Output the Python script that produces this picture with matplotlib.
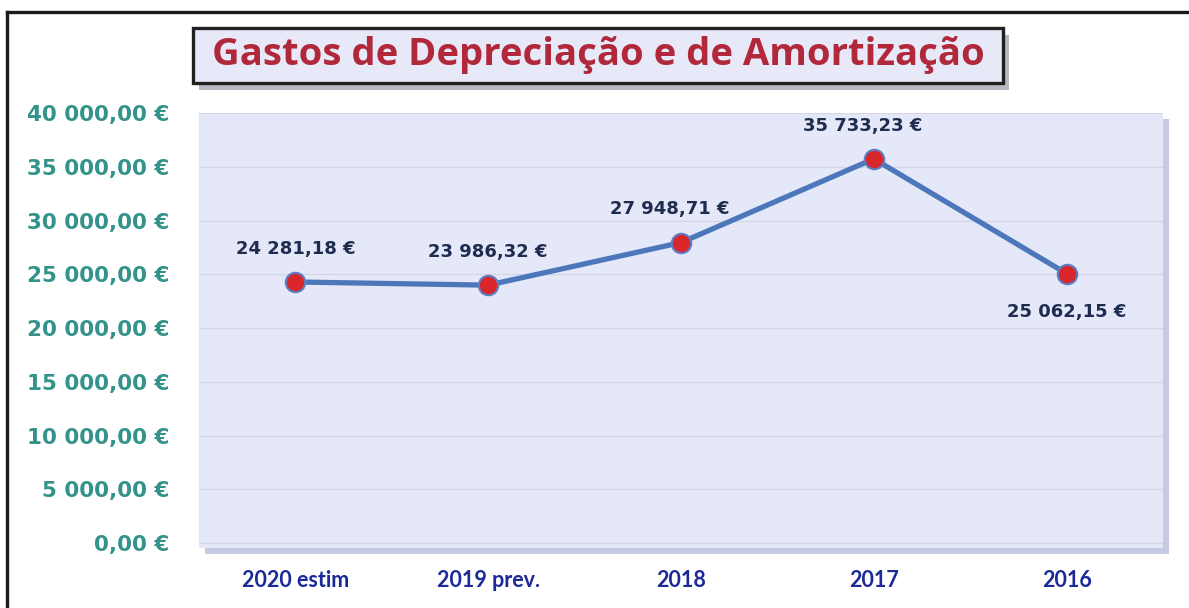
import matplotlib
matplotlib.use("Agg")
import matplotlib.pyplot as plt
from matplotlib.patches import Rectangle
from matplotlib.lines import Line2D
from matplotlib.ticker import FuncFormatter

# data
categories = ["2020 estim", "2019 prev.", "2018", "2017", "2016"]
values = [24281.18, 23986.32, 27948.71, 35733.23, 25062.15]
yticks = [0, 5000, 10000, 15000, 20000, 25000, 30000, 35000, 40000]
title = "Gastos de Depreciação e de Amortização"

W, H = 1189, 608


def eur(v, pos=None):
    s = "{:,.2f}".format(v)
    s = s.replace(",", " ").replace(".", ",")
    return s + " €"


fig = plt.figure(figsize=(W / 100, H / 100), dpi=100)
fig.patch.set_facecolor("white")

# page border (left + top only, rest is cropped)
fig.add_artist(Line2D([7 / W, 7 / W], [0, 1 - 12 / H], color="#1a1a1a", lw=2.4,
                      transform=fig.transFigure))
fig.add_artist(Line2D([7 / W, 1], [1 - 12 / H, 1 - 12 / H], color="#1a1a1a", lw=2.4,
                      transform=fig.transFigure))

# plot area
left, right, top, bottom = 199, 1163, 113, 548
ax_rect = [left / W, 1 - bottom / H, (right - left) / W, (bottom - top) / H]

# panel shadow
fig.add_artist(Rectangle((ax_rect[0] + 6 / W, ax_rect[1] - 6 / H), ax_rect[2], ax_rect[3],
                         transform=fig.transFigure, facecolor="#b8bfdc", edgecolor="none",
                         alpha=0.8, zorder=0))

ax = fig.add_axes(ax_rect)
ax.set_facecolor("#e5e8f8")
x = list(range(len(categories)))

for t in yticks:
    ax.axhline(t, color="#d2d6e6", lw=0.9, zorder=1)

ax.plot(x, values, color="#4d77bb", lw=3.8, zorder=3, solid_joinstyle="round")
ax.plot(x, values, "o", ms=14, mfc="#d8262b", mec="#5b7ec4", mew=1.5, zorder=4)

for i, v in enumerate(values):
    dy = -28 if i == len(values) - 1 else 24
    dx = 0 if i < 2 or i == len(values) - 1 else -8
    ax.annotate(eur(v), (i, v), xytext=(dx, dy), textcoords="offset points",
                ha="center", va="center", fontsize=13, fontweight="bold",
                color="#1e2c4f")

ax.set_xlim(-0.5, len(categories) - 0.5)
ax.set_ylim(-465, 40000)
ax.set_yticks(yticks)
ax.yaxis.set_major_formatter(FuncFormatter(eur))
ax.set_xticks(x)
ax.set_xticklabels(categories)
ax.tick_params(axis="y", length=0, pad=21, labelsize=15.5, labelcolor="#33938a")
ax.tick_params(axis="x", length=0, pad=16, labelsize=15.5, labelcolor="#1b2a98")
for lab in ax.get_yticklabels():
    lab.set_fontweight("bold")
for lab in ax.get_xticklabels():
    lab.set_fontweight("bold")
    lab.set_family("Lato")
for s in ax.spines.values():
    s.set_visible(False)

# title box with shadow
tx0, tx1, ty0, ty1 = 193, 1003, 28, 83
fig.add_artist(Rectangle((tx0 / W + 6 / W, 1 - ty1 / H - 7 / H), (tx1 - tx0) / W, (ty1 - ty0) / H,
                         transform=fig.transFigure, facecolor="#9a9aa6", edgecolor="none",
                         alpha=0.7, zorder=5))
fig.add_artist(Rectangle((tx0 / W, 1 - ty1 / H), (tx1 - tx0) / W, (ty1 - ty0) / H,
                         transform=fig.transFigure, facecolor="#e8e9f8", edgecolor="#202020",
                         lw=2.4, zorder=6))
fig.text((tx0 + tx1) / 2 / W, 1 - (ty0 + ty1) / 2 / H, title, ha="center", va="center",
         fontsize=27.5, fontweight="bold", color="#b0283a", family="Open Sans", zorder=7)

fig.savefig("out.png", dpi=100)
